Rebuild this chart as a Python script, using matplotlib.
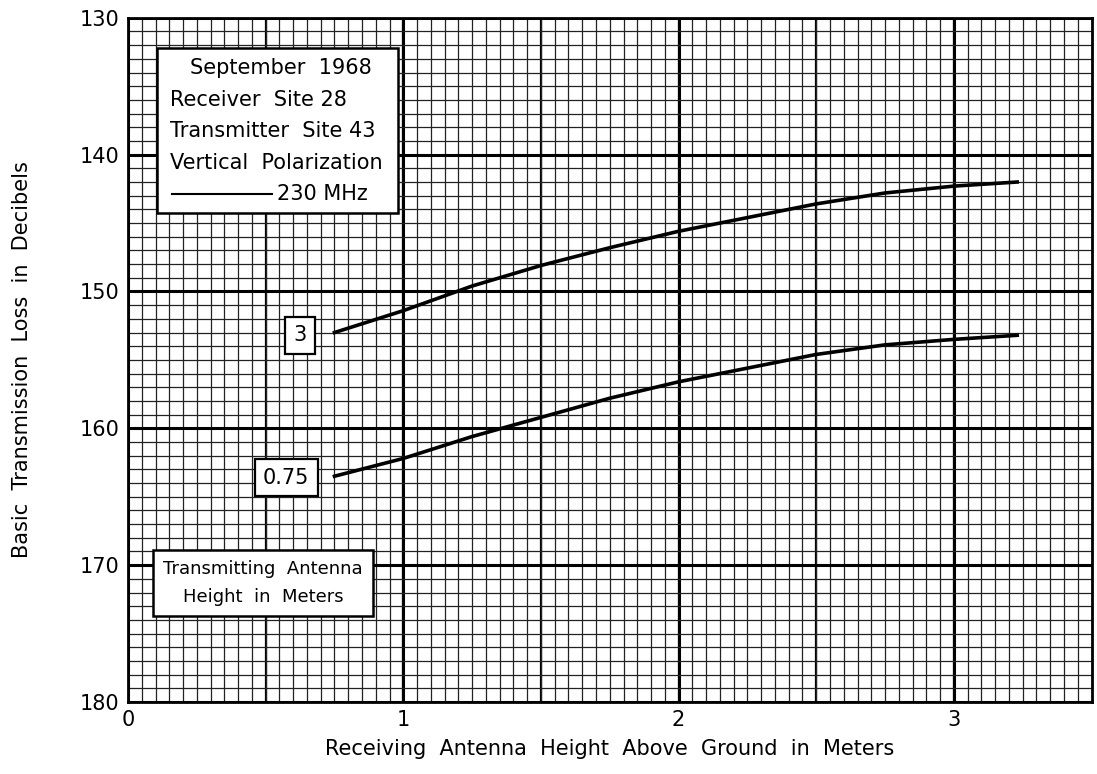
import matplotlib.pyplot as plt
from matplotlib.patches import Rectangle
from matplotlib.ticker import MultipleLocator

# --------------------------------------------------
# Data
# --------------------------------------------------
rx_height = [0.75, 1.0, 1.25, 1.5, 1.75, 2.0, 2.25, 2.5, 2.75, 3.0, 3.23]
loss_tx3 = [153.0, 151.4, 149.6, 148.1, 146.8, 145.6, 144.6, 143.6, 142.8, 142.3, 142.0]
loss_tx075 = [163.5, 162.2, 160.6, 159.2, 157.8, 156.6, 155.6, 154.6, 153.9, 153.5, 153.2]

xticks = [0, 1, 2, 3]
yticks = [130, 140, 150, 160, 170, 180]

info_lines = ["September  1968", "Receiver  Site 28", "Transmitter  Site 43",
              "Vertical  Polarization", "230 MHz"]

plt.rcParams["font.family"] = ["DejaVu Sans"]

fig = plt.figure(figsize=(10.97, 7.74), dpi=100)
ax = fig.add_axes([0.1167, 0.093, 0.8783, 0.884])

ax.set_xlim(0, 3.5)
ax.set_ylim(180, 130)

# graph-paper grid
ax.xaxis.set_minor_locator(MultipleLocator(0.05))
ax.yaxis.set_minor_locator(MultipleLocator(1))
ax.set_xticks(xticks)
ax.set_yticks(yticks)
ax.grid(which="minor", color="#222222", linewidth=0.9)
ax.grid(which="major", color="black", linewidth=2.2)
for i in range(1, 7):
    ax.axvline(i * 0.5, color="black", linewidth=1.6, zorder=0.5)
ax.set_axisbelow(True)
for s in ax.spines.values():
    s.set_linewidth(2)

ax.tick_params(which="both", length=0, labelsize=15, pad=6)
ax.set_xticklabels([str(t) for t in xticks])
ax.set_yticklabels([str(t) for t in yticks])

# curves
ax.plot(rx_height, loss_tx3, color="black", linewidth=2.6, zorder=3)
ax.plot(rx_height, loss_tx075, color="black", linewidth=2.6, zorder=3)

box = dict(boxstyle="square,pad=0.4", facecolor="white", edgecolor="black", linewidth=1.6)
ax.text(0.625, 153.2, "3", fontsize=15, ha="center", va="center", bbox=box, zorder=4)
ax.text(0.575, 163.6, "0.75", fontsize=15, ha="center", va="center", bbox=box, zorder=4)

# info box
ax.add_patch(Rectangle((0.105, 132.2), 0.875, 12.1, facecolor="white", edgecolor="black",
                       linewidth=1.8, zorder=4))
line_y = [133.65, 136.0, 138.3, 140.6, 142.9]
line_x = [0.224, 0.152, 0.152, 0.152, 0.54]
for txt, lx, ly in zip(info_lines, line_x, line_y):
    ax.text(lx, ly, txt, fontsize=15, ha="left", va="center", zorder=5)
ax.plot([0.159, 0.524], [142.9, 142.9], color="black", linewidth=1.5, zorder=5)

ax.text(0.49, 171.3, "Transmitting  Antenna\nHeight  in  Meters", fontsize=13, ha="center",
        va="center", linespacing=1.7,
        bbox=dict(boxstyle="square,pad=0.55", facecolor="white", edgecolor="black", linewidth=1.8),
        zorder=4)

ax.set_xlabel("Receiving  Antenna  Height  Above  Ground  in  Meters", fontsize=15, labelpad=6)
fig.text(22 / 1097, 1 - 360 / 774, "Basic  Transmission  Loss  in  Decibels", fontsize=15,
         rotation=90, ha="center", va="center")

plt.savefig("out.png", dpi=100)
